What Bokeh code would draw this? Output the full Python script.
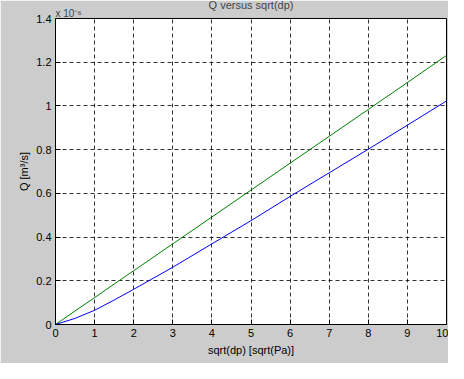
from bokeh.plotting import figure
from bokeh.models import Range1d, FixedTicker, Title
from bokeh.embed import file_html
from bokeh.resources import INLINE

x_vals = [0, 0.5, 1, 1.5, 2, 3, 4, 5, 6, 7, 8, 9, 10]
q_blue = [0, 0.028, 0.065, 0.112, 0.161, 0.262, 0.369, 0.475, 0.586, 0.694, 0.802, 0.912, 1.023]
q_green = [0, 0.062, 0.123, 0.185, 0.246, 0.369, 0.492, 0.615, 0.738, 0.861, 0.984, 1.107, 1.231]

x_ticks = [0, 1, 2, 3, 4, 5, 6, 7, 8, 9, 10]
y_ticks = [0, 0.2, 0.4, 0.6, 0.8, 1.0, 1.2, 1.4]
y_tick_labels = ["0", "0.2", "0.4", "0.6", "0.8", "1", "1.2", "1.4"]

title_text = "Q versus sqrt(dp)"
exponent_text = "x 10\u207b\u2076"
x_label = "sqrt(dp) [sqrt(Pa)]"
y_label = "Q [m\u00b3/s]"

FONT = "Liberation Sans"

p = figure(width=448, height=363, output_backend="svg", toolbar_location=None,
           x_range=Range1d(0, 10), y_range=Range1d(0, 1.4), title=title_text,
           min_border_left=55, min_border_right=2, min_border_top=17, min_border_bottom=39)
p.border_fill_color = "#cccccc"
p.background_fill_color = "white"
p.outline_line_color = "black"
p.title.align = "center"
p.title.text_font = FONT
p.title.text_font_size = "11px"
p.title.text_font_style = "normal"
p.title.standoff = -8

exp_title = Title(text=exponent_text, align="left", text_font=FONT, text_font_size="10px",
                  text_font_style="normal", standoff=-1)
p.add_layout(exp_title, "above")

p.line(x_vals, q_green, line_color="#008000", line_width=1)
p.line(x_vals, q_blue, line_color="#0000ff", line_width=1)

for ax in (p.xaxis[0], p.yaxis[0]):
    ax.axis_line_color = "black"
    ax.major_tick_line_color = "black"
    ax.major_tick_in = 5
    ax.major_tick_out = 0
    ax.minor_tick_line_color = None
    ax.major_label_text_font = FONT
    ax.major_label_text_font_size = "11px"
    ax.major_label_text_color = "black"
    ax.axis_label_text_font = FONT
    ax.axis_label_text_font_size = "11px"
    ax.axis_label_text_font_style = "normal"
    ax.axis_label_text_color = "black"
    ax.major_label_standoff = 4

p.xaxis.ticker = FixedTicker(ticks=x_ticks)
p.yaxis.ticker = FixedTicker(ticks=y_ticks)
p.yaxis.major_label_overrides = {t: l for t, l in zip(y_ticks, y_tick_labels)}
p.xaxis.axis_label = x_label
p.yaxis.axis_label = y_label
p.xaxis.axis_label_standoff = 4
p.yaxis.axis_label_standoff = 3

for g in (p.xgrid[0], p.ygrid[0]):
    g.grid_line_color = "black"
    g.grid_line_alpha = 0.8
    g.grid_line_dash = "4 3"
    g.grid_line_width = 1

open("out.html", "w").write(file_html(p, INLINE))
